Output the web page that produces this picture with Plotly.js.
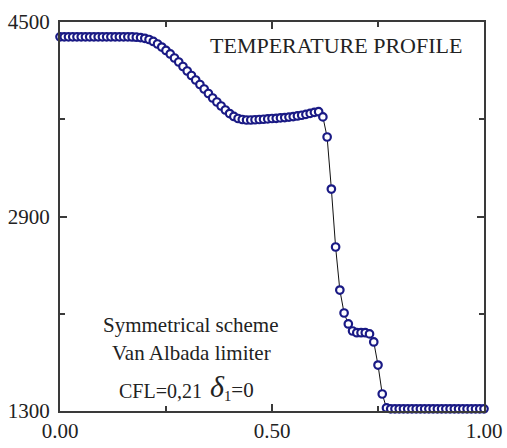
<!DOCTYPE html>
<html>
<head>
<meta charset="utf-8">
<script src="https://cdn.plot.ly/plotly-3.0.1.min.js"></script>
<style>html,body{margin:0;padding:0;background:#fff;}#chart{width:507px;height:448px;}</style>
</head>
<body>
<div id="chart"></div>
<script>
const xValues = [0.00,0.01,0.02,0.03,0.04,0.05,0.06,0.07,0.08,0.09,
  0.10,0.11,0.12,0.13,0.14,0.15,0.16,0.17,0.18,0.19,
  0.20,0.21,0.22,0.23,0.24,0.25,0.26,0.27,0.28,0.29,
  0.30,0.31,0.32,0.33,0.34,0.35,0.36,0.37,0.38,0.39,
  0.40,0.41,0.42,0.43,0.44,0.45,0.46,0.47,0.48,0.49,
  0.50,0.51,0.52,0.53,0.54,0.55,0.56,0.57,0.58,0.59,
  0.60,0.61,0.62,0.63,0.64,0.65,0.66,0.67,0.68,0.69,
  0.70,0.71,0.72,0.73,0.74,0.75,0.76,0.77,0.78,0.79,
  0.80,0.81,0.82,0.83,0.84,0.85,0.86,0.87,0.88,0.89,
  0.90,0.91,0.92,0.93,0.94,0.95,0.96,0.97,0.98,0.99,1.00];
const temperature = [4378,4378,4378,4378,4378,4378,4378,4378,4378,4378,
  4378,4378,4378,4378,4378,4378,4378,4377,4375,4372,
  4366,4356,4340,4319,4294,4266,4237,4204,4171,4134,
  4097,4060,4023,3986,3949,3912,3875,3842,3809,3776,
  3747,3723,3706,3698,3694,3694,3696,3698,3700,3703,
  3706,3708,3711,3714,3718,3722,3727,3733,3740,3748,
  3757,3762,3719,3554,3126,2649,2295,2106,2016,1958,
  1944,1944,1944,1934,1868,1678,1440,1325,1318,1318,
  1318,1318,1318,1318,1318,1318,1318,1318,1318,1318,
  1318,1318,1318,1318,1318,1318,1318,1318,1318,1318,1318];
const xTickVals = [0, 0.5, 1];
const xTickText = ['0.00', '0.50', '1.00'];
const yTickVals = [1300, 2900, 4500];
const yTickText = ['1300', '2900', '4500'];
const plotTitle = 'TEMPERATURE PROFILE';
const noteLines = ['Symmetrical scheme', 'Van Albada limiter'];
const cflText = 'CFL=0,21';
const deltaText = '<span style="font-size:30px"><i>δ</i></span><sub>1</sub>=0';

const serif = 'Liberation Serif, Times New Roman, serif';
const axisCommon = {
  showline: true, linecolor: '#3a3a3a', linewidth: 2, mirror: 'ticks',
  ticks: 'inside', ticklen: 7, tickwidth: 2, tickcolor: '#3a3a3a',
  showgrid: false, zeroline: false,
  tickfont: {family: serif, size: 21, color: '#222'}
};

const trace = {
  x: xValues, y: temperature, type: 'scatter', mode: 'lines+markers',
  line: {color: '#111', width: 1},
  marker: {symbol: 'circle', size: 7.5, color: '#ffffff', line: {color: '#1a1a85', width: 2.2}},
  cliponaxis: false, showlegend: false
};

const layout = {
  width: 507, height: 448,
  margin: {l: 60, r: 23, t: 22, b: 37},
  paper_bgcolor: '#fff', plot_bgcolor: '#fff',
  xaxis: Object.assign({}, axisCommon, {
    range: [0, 1], tickvals: xTickVals, ticktext: xTickText,
    minor: {dtick: 0.25, tick0: 0, ticks: 'inside', ticklen: 5, tickwidth: 2, tickcolor: '#3a3a3a'}
  }),
  yaxis: Object.assign({}, axisCommon, {
    range: [1300, 4500], tickvals: yTickVals, ticktext: yTickText,
    minor: {dtick: 800, tick0: 1300, ticks: 'inside', ticklen: 5, tickwidth: 2, tickcolor: '#3a3a3a'},
    ticklabelstandoff: 4
  }),
  annotations: [
    {text: plotTitle, xref: 'paper', yref: 'paper', x: 0.952, y: 0.94, xanchor: 'right', yanchor: 'middle',
     showarrow: false, font: {family: serif, size: 22, color: '#222'}},
    {text: noteLines[0], xref: 'paper', yref: 'paper', x: 0.31, y: 0.22, xanchor: 'center', yanchor: 'middle',
     showarrow: false, font: {family: serif, size: 21, color: '#222'}},
    {text: noteLines[1], xref: 'paper', yref: 'paper', x: 0.31, y: 0.148, xanchor: 'center', yanchor: 'middle',
     showarrow: false, font: {family: serif, size: 21, color: '#222'}},
    {text: cflText, xref: 'paper', yref: 'paper', x: 0.135, y: 0.052, xanchor: 'left', yanchor: 'middle',
     showarrow: false, font: {family: serif, size: 20, color: '#222'}},
    {text: deltaText, xref: 'paper', yref: 'paper', x: 0.35, y: 0.062, xanchor: 'left', yanchor: 'middle',
     showarrow: false, font: {family: serif, size: 21, color: '#222'}}
  ]
};

Plotly.newPlot('chart', [trace], layout, {displayModeBar: false, staticPlot: true});
</script>
</body>
</html>
